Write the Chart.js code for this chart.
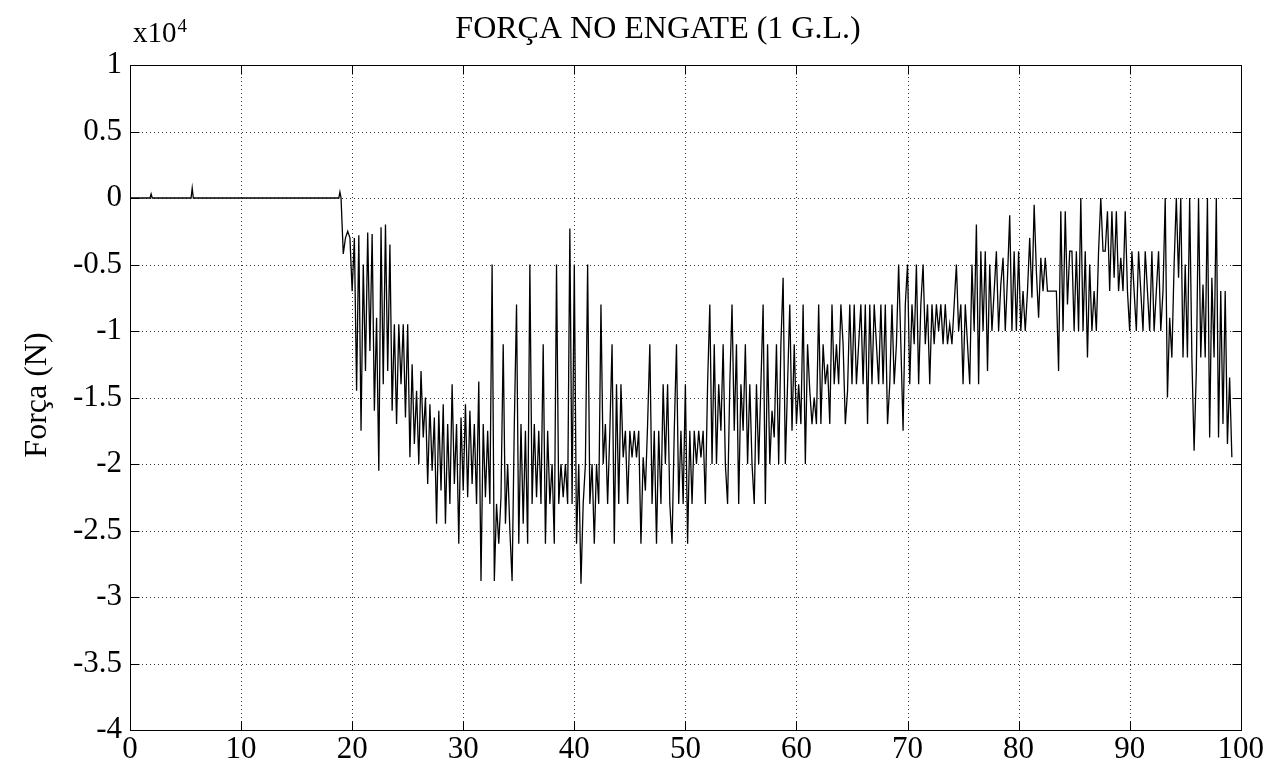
<!DOCTYPE html>
<html>
<head>
<meta charset="utf-8">
<script src="https://cdn.jsdelivr.net/npm/chart.js@4/dist/chart.umd.min.js"></script>
<style>
html,body{margin:0;padding:0;background:#fff;}
#wrap{width:1265px;height:765px;position:relative;}
</style>
</head>
<body>
<div id="wrap"><canvas id="c" width="1265" height="765"></canvas></div>
<script>
// ---- text ----
const titleText = "FORÇA NO ENGATE (1 G.L.)";
const yAxisLabel = "Força (N)";
const yMultiplier = ["x10", "4"];

// ---- tick labels ----
const xTicks = [0, 10, 20, 30, 40, 50, 60, 70, 80, 90, 100];
const yTicks = [1, 0.5, 0, -0.5, -1, -1.5, -2, -2.5, -3, -3.5, -4];

// ---- quiet part of the signal (time in s, force in 10^4 N) ----
const quietTime  = [0, 1.8, 1.9, 2.0, 5.5, 5.6, 5.7, 18.8, 18.9, 19.0, 19.2, 19.4];
const quietForce = [0, 0, 0.03, 0, 0, 0.075, 0, 0, 0.045, 0, -0.42, -0.3];

// ---- oscillating part, sampled every 0.2 s from 19.6 s (force in 10^4 N) ----
const noisyStart = 19.6;
const noisyStep = 0.2;
const noisyForce = [
  -0.25, -0.3,
  -0.7, -0.3, -1.45, -0.28, -1.75,
  -0.5, -1.3, -0.26, -1.15, -0.27,
  -1.6, -0.9, -2.05, -0.22, -1.4,
  -0.2, -1.3, -0.35, -1.6, -0.95,
  -1.7, -0.95, -1.4, -0.95, -1.65,
  -0.95, -1.95, -1.25, -1.85, -1.45,
  -2.0, -1.3, -1.8, -1.5, -2.15,
  -1.55, -2.05, -1.65, -2.45, -1.6,
  -2.2, -1.55, -2.45, -1.7, -2.3,
  -1.4, -2.15, -1.7, -2.6, -1.65,
  -2.2, -1.55, -2.25, -1.6, -2.15,
  -1.7, -2.3, -1.38, -2.88, -1.7,
  -2.25, -1.75, -2.3, -0.5, -2.88,
  -2.3, -2.6, -2.25, -1.1, -2.45,
  -2.0, -2.5, -2.88, -1.7, -0.8,
  -2.6, -1.7, -2.45, -1.75, -2.6,
  -0.5, -2.3, -1.7, -2.25, -1.75,
  -2.3, -1.1, -2.6, -1.75, -2.3,
  -2.0, -2.6, -0.5, -2.3, -2.0,
  -2.25, -2.0, -2.3, -0.23, -2.3,
  -0.5, -2.6, -2.0, -2.9, -2.3,
  -2.0, -0.5, -2.3, -2.0, -2.6,
  -2.0, -2.3, -0.8, -2.0, -1.7,
  -2.3, -1.75, -1.1, -2.6, -1.4,
  -2.3, -1.4, -1.95, -1.75, -2.3,
  -1.75, -1.95, -1.75, -1.95, -1.75,
  -2.6, -1.95, -2.2, -1.7, -1.1,
  -2.3, -1.75, -2.6, -1.75, -2.3,
  -1.4, -2.0, -1.4, -2.3, -2.6,
  -1.75, -1.1, -2.3, -1.75, -2.3,
  -1.4, -2.6, -1.75, -2.3, -1.75,
  -2.0, -1.75, -1.95, -1.75, -2.3,
  -1.4, -0.8, -2.0, -1.1, -2.0,
  -1.4, -1.75, -1.1, -2.0, -2.3,
  -1.4, -0.8, -1.75, -1.1, -2.3,
  -1.4, -1.75, -1.1, -2.0, -1.4,
  -2.0, -2.3, -1.4, -2.0, -1.4,
  -0.8, -2.3, -1.1, -2.0, -1.6,
  -1.8, -1.1, -2.0, -1.1, -0.6,
  -2.0, -1.4, -0.8, -1.75, -1.1,
  -1.7, -1.4, -1.7, -0.8, -2.0,
  -1.1, -1.45, -1.7, -1.5, -1.7,
  -0.8, -1.7, -1.1, -1.4, -1.25,
  -1.7, -0.8, -1.4, -1.1, -1.4,
  -0.8, -1.1, -1.7, -1.45, -0.8,
  -1.4, -0.8, -1.4, -1.1, -0.8,
  -1.4, -0.8, -1.7, -0.8, -1.4,
  -0.8, -1.1, -1.4, -0.8, -1.4,
  -0.8, -1.7, -1.4, -0.8, -1.4,
  -1.1, -0.5, -1.1, -1.75, -0.8,
  -0.5, -1.4, -0.8, -1.1, -0.5,
  -1.4, -0.8, -0.5, -1.1, -0.8,
  -1.4, -0.8, -1.1, -0.8, -1.0,
  -0.8, -1.1, -0.8, -1.1, -0.95,
  -1.1, -0.8, -0.5, -1.0, -0.8,
  -1.4, -0.8, -1.1, -1.4, -0.5,
  -1.0, -0.2, -1.4, -0.4, -1.0,
  -0.4, -1.3, -0.5, -1.0, -0.7,
  -0.4, -1.0, -0.65, -0.45, -1.0,
  -0.6, -0.13, -1.0, -0.4, -1.0,
  -0.4, -1.0, -0.7, -1.0, -0.7,
  -0.3, -0.75, -0.05, -0.55, -0.9,
  -0.45, -0.7, -0.45, -0.7, -0.7,
  -0.7, -0.7, -0.7, -1.3, -0.1,
  -1.0, -0.1, -0.8, -0.4, -0.4,
  -1.0, -0.4, -1.0, 0.0, -1.0,
  -0.4, -1.2, -0.5, -1.0, -0.7,
  -1.0, -0.4, 0.0, -0.4, -0.4,
  -0.1, -0.7, -0.1, -0.6, -0.1,
  -0.7, -0.45, -0.7, -0.1, -0.7,
  -1.0, -0.4, -0.7, -1.0, -0.4,
  -0.7, -1.0, -0.4, -0.7, -1.0,
  -0.4, -1.0, -0.7, -0.4, -1.0,
  -0.7, 0.0, -1.5, -0.9, -1.2,
  -0.5, 0.0, -0.6, 0.0, -1.2,
  -0.5, -1.2, 0.0, -1.2, -1.9,
  -1.3, 0.0, -1.2, -0.65, -1.2,
  0.0, -1.8, -0.6, -1.2, 0.0,
  -1.8, -0.7, -1.7, -0.7, -1.85,
  -1.35, -1.95
];

// ---- build points ----
const points = [];
quietTime.forEach((t, i) => points.push({x: t, y: quietForce[i]}));
noisyForce.forEach((f, i) => points.push({x: +(noisyStart + i * noisyStep).toFixed(2), y: f}));

const SERIF = '"Liberation Serif", "Times New Roman", serif';

const decor = {
  id: 'decor',
  beforeDatasetsDraw(chart) {
    const {ctx, chartArea: a, scales: {x, y}} = chart;
    ctx.save();
    ctx.strokeStyle = '#333';
    ctx.lineWidth = 1;
    ctx.setLineDash([1, 3]);
    xTicks.forEach(v => {
      if (v <= x.min || v >= x.max) return;
      const px = Math.round(x.getPixelForValue(v)) + 0.5;
      ctx.beginPath(); ctx.moveTo(px, a.top); ctx.lineTo(px, a.bottom); ctx.stroke();
    });
    yTicks.forEach(v => {
      if (v <= y.min || v >= y.max) return;
      const py = Math.round(y.getPixelForValue(v)) + 0.5;
      ctx.beginPath(); ctx.moveTo(a.left, py); ctx.lineTo(a.right, py); ctx.stroke();
    });
    ctx.restore();
  },
  afterDatasetsDraw(chart) {
    const {ctx, chartArea: a, scales: {x, y}} = chart;
    ctx.save();
    ctx.setLineDash([]);
    ctx.strokeStyle = '#000';
    ctx.lineWidth = 1;
    const L = Math.round(a.left) + 0.5, R = Math.round(a.right) + 0.5;
    const T = Math.round(a.top) + 0.5, B = Math.round(a.bottom) + 0.5;
    ctx.strokeRect(L, T, R - L, B - T);
    // inward tick marks
    const tl = 9;
    yTicks.forEach(v => {
      const py = Math.round(y.getPixelForValue(v)) + 0.5;
      ctx.beginPath();
      ctx.moveTo(L, py); ctx.lineTo(L + tl, py);
      ctx.moveTo(R, py); ctx.lineTo(R - tl, py);
      ctx.stroke();
    });
    xTicks.forEach(v => {
      const px = Math.round(x.getPixelForValue(v)) + 0.5;
      ctx.beginPath();
      ctx.moveTo(px, B); ctx.lineTo(px, B - tl);
      ctx.moveTo(px, T); ctx.lineTo(px, T + tl);
      ctx.stroke();
    });
    // title
    ctx.fillStyle = '#000';
    ctx.font = '32px ' + SERIF;
    ctx.textAlign = 'center';
    ctx.textBaseline = 'alphabetic';
    ctx.fillText(titleText, 658, 38);
    // multiplier
    ctx.textAlign = 'left';
    ctx.font = '29px ' + SERIF;
    ctx.fillText(yMultiplier[0], 133, 42);
    const w = ctx.measureText(yMultiplier[0]).width;
    ctx.font = '19px ' + SERIF;
    ctx.fillText(yMultiplier[1], 133 + w + 1, 32);
    // y label
    ctx.translate(38, 395);
    ctx.rotate(-Math.PI / 2);
    ctx.textAlign = 'center';
    ctx.textBaseline = 'middle';
    ctx.font = '32px ' + SERIF;
    ctx.fillText(yAxisLabel, 0, 0);
    ctx.restore();
  }
};

new Chart(document.getElementById('c'), {
  type: 'line',
  data: {
    datasets: [{
      data: points,
      borderColor: '#000',
      borderWidth: 1.3,
      pointRadius: 0,
      tension: 0,
      fill: false
    }]
  },
  options: {
    responsive: false,
    animation: false,
    devicePixelRatio: 1,
    layout: {padding: {left: 0, right: 23, top: 65, bottom: 0}},
    plugins: {legend: {display: false}, title: {display: false}, tooltip: {enabled: false}},
    scales: {
      x: {
        type: 'linear', min: 0, max: 100,
        afterBuildTicks: s => { s.ticks = xTicks.map(v => ({value: v})); },
        afterFit: s => { s.height = 35; },
        grid: {display: false, drawTicks: false},
        border: {display: false},
        ticks: {color: '#000', font: {family: SERIF, size: 31}, padding: 1, maxRotation: 0, autoSkip: false,
                callback: v => String(v)}
      },
      y: {
        type: 'linear', min: -4, max: 1,
        afterBuildTicks: s => { s.ticks = yTicks.map(v => ({value: v})); },
        afterFit: s => { s.width = 130; },
        grid: {display: false, drawTicks: false},
        border: {display: false},
        ticks: {color: '#000', font: {family: SERIF, size: 31}, padding: 8, autoSkip: false,
                callback: v => String(v)}
      }
    }
  },
  plugins: [decor]
});
</script>
</body>
</html>
